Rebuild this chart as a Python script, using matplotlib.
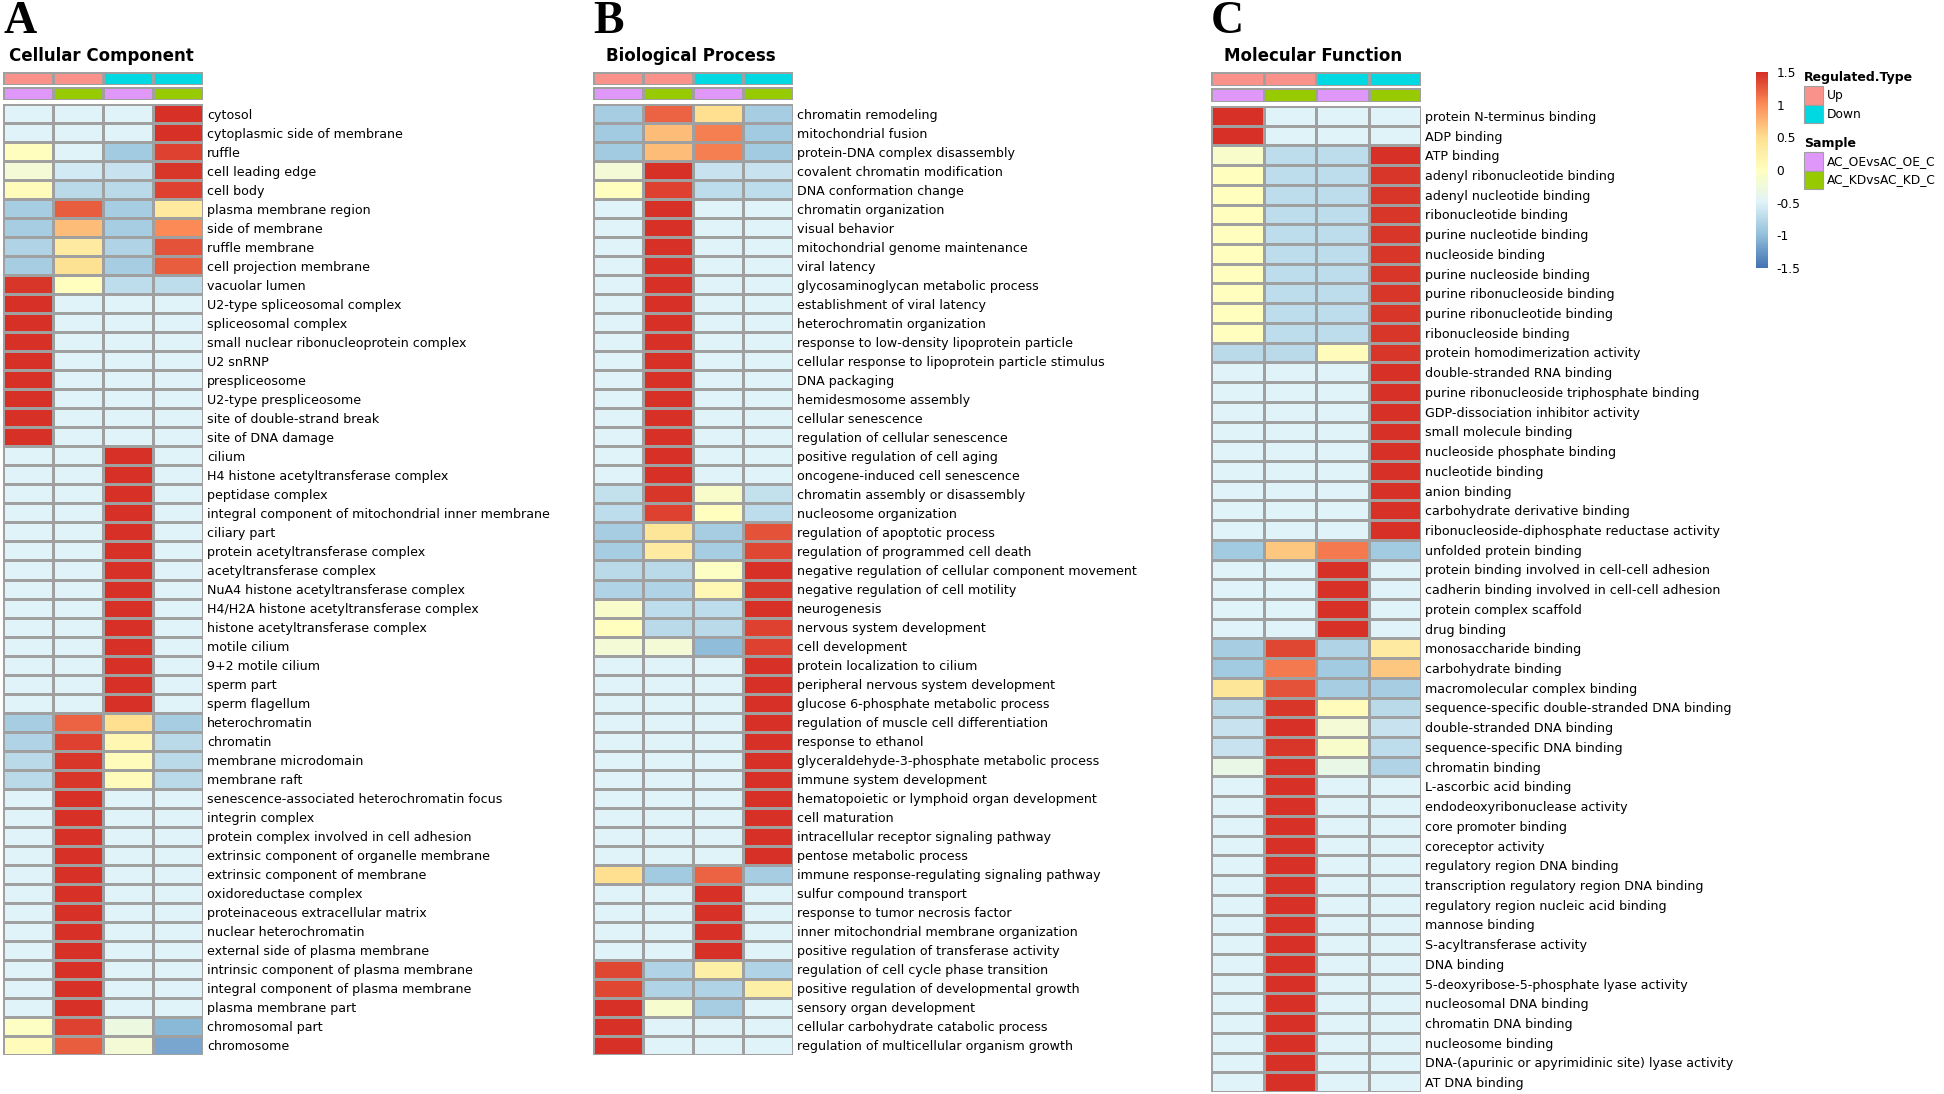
import numpy as np
import matplotlib.pyplot as plt
from matplotlib.colors import LinearSegmentedColormap, ListedColormap, Normalize
from matplotlib.cm import ScalarMappable
from matplotlib.patches import Rectangle

W, H = 1944, 1094

# row-scaled values (z-scores), columns: OE up, KD up, OE down, KD down
cc_terms = [
    "cytosol", "cytoplasmic side of membrane", "ruffle", "cell leading edge", "cell body",
    "plasma membrane region", "side of membrane", "ruffle membrane", "cell projection membrane",
    "vacuolar lumen", "U2-type spliceosomal complex", "spliceosomal complex",
    "small nuclear ribonucleoprotein complex", "U2 snRNP", "prespliceosome",
    "U2-type prespliceosome", "site of double-strand break", "site of DNA damage", "cilium",
    "H4 histone acetyltransferase complex", "peptidase complex",
    "integral component of mitochondrial inner membrane", "ciliary part",
    "protein acetyltransferase complex", "acetyltransferase complex",
    "NuA4 histone acetyltransferase complex", "H4/H2A histone acetyltransferase complex",
    "histone acetyltransferase complex", "motile cilium", "9+2 motile cilium", "sperm part",
    "sperm flagellum", "heterochromatin", "chromatin", "membrane microdomain", "membrane raft",
    "senescence-associated heterochromatin focus", "integrin complex",
    "protein complex involved in cell adhesion", "extrinsic component of organelle membrane",
    "extrinsic component of membrane", "oxidoreductase complex",
    "proteinaceous extracellular matrix", "nuclear heterochromatin",
    "external side of plasma membrane", "intrinsic component of plasma membrane",
    "integral component of plasma membrane", "plasma membrane part", "chromosomal part",
    "chromosome",
]
cc_values = [
    [-0.5, -0.5, -0.5, 1.5], [-0.5, -0.5, -0.5, 1.5], [0.0, -0.5, -0.9, 1.4],
    [-0.2, -0.6, -0.65, 1.45], [0.05, -0.75, -0.75, 1.4], [-0.85, 1.25, -0.85, 0.35],
    [-0.85, 0.7, -0.85, 1.0], [-0.8, 0.3, -0.8, 1.3], [-0.85, 0.45, -0.85, 1.25],
    [1.45, 0.0, -0.72, -0.72],
    [1.5, -0.5, -0.5, -0.5], [1.5, -0.5, -0.5, -0.5], [1.5, -0.5, -0.5, -0.5],
    [1.5, -0.5, -0.5, -0.5], [1.5, -0.5, -0.5, -0.5], [1.5, -0.5, -0.5, -0.5],
    [1.5, -0.5, -0.5, -0.5], [1.5, -0.5, -0.5, -0.5],
    [-0.5, -0.5, 1.5, -0.5], [-0.5, -0.5, 1.5, -0.5], [-0.5, -0.5, 1.5, -0.5],
    [-0.5, -0.5, 1.5, -0.5], [-0.5, -0.5, 1.5, -0.5], [-0.5, -0.5, 1.5, -0.5],
    [-0.5, -0.5, 1.5, -0.5], [-0.5, -0.5, 1.5, -0.5], [-0.5, -0.5, 1.5, -0.5],
    [-0.5, -0.5, 1.5, -0.5], [-0.5, -0.5, 1.5, -0.5], [-0.5, -0.5, 1.5, -0.5],
    [-0.5, -0.5, 1.5, -0.5], [-0.5, -0.5, 1.5, -0.5],
    [-0.85, 1.2, 0.5, -0.85], [-0.8, 1.4, 0.15, -0.75], [-0.75, 1.45, 0.05, -0.75],
    [-0.75, 1.45, 0.05, -0.75],
    [-0.5, 1.5, -0.5, -0.5], [-0.5, 1.5, -0.5, -0.5], [-0.5, 1.5, -0.5, -0.5],
    [-0.5, 1.5, -0.5, -0.5], [-0.5, 1.5, -0.5, -0.5], [-0.5, 1.5, -0.5, -0.5],
    [-0.5, 1.5, -0.5, -0.5], [-0.5, 1.5, -0.5, -0.5], [-0.5, 1.5, -0.5, -0.5],
    [-0.5, 1.5, -0.5, -0.5], [-0.5, 1.5, -0.5, -0.5], [-0.5, 1.5, -0.5, -0.5],
    [-0.05, 1.4, -0.3, -1.05], [0.05, 1.25, -0.2, -1.15],
]

bp_terms = [
    "chromatin remodeling", "mitochondrial fusion", "protein-DNA complex disassembly",
    "covalent chromatin modification", "DNA conformation change", "chromatin organization",
    "visual behavior", "mitochondrial genome maintenance", "viral latency",
    "glycosaminoglycan metabolic process", "establishment of viral latency",
    "heterochromatin organization", "response to low-density lipoprotein particle",
    "cellular response to lipoprotein particle stimulus", "DNA packaging",
    "hemidesmosome assembly", "cellular senescence", "regulation of cellular senescence",
    "positive regulation of cell aging", "oncogene-induced cell senescence",
    "chromatin assembly or disassembly", "nucleosome organization",
    "regulation of apoptotic process", "regulation of programmed cell death",
    "negative regulation of cellular component movement",
    "negative regulation of cell motility", "neurogenesis", "nervous system development",
    "cell development", "protein localization to cilium",
    "peripheral nervous system development", "glucose 6-phosphate metabolic process",
    "regulation of muscle cell differentiation", "response to ethanol",
    "glyceraldehyde-3-phosphate metabolic process", "immune system development",
    "hematopoietic or lymphoid organ development", "cell maturation",
    "intracellular receptor signaling pathway", "pentose metabolic process",
    "immune response-regulating signaling pathway", "sulfur compound transport",
    "response to tumor necrosis factor", "inner mitochondrial membrane organization",
    "positive regulation of transferase activity", "regulation of cell cycle phase transition",
    "positive regulation of developmental growth", "sensory organ development",
    "cellular carbohydrate catabolic process", "regulation of multicellular organism growth",
]
bp_values = [
    [-0.85, 1.2, 0.5, -0.85], [-0.9, 0.7, 1.05, -0.9], [-0.9, 0.7, 1.05, -0.9],
    [-0.2, 1.5, -0.65, -0.65], [0.0, 1.4, -0.7, -0.7],
    [-0.5, 1.5, -0.5, -0.5], [-0.5, 1.5, -0.5, -0.5], [-0.5, 1.5, -0.5, -0.5],
    [-0.5, 1.5, -0.5, -0.5], [-0.5, 1.5, -0.5, -0.5], [-0.5, 1.5, -0.5, -0.5],
    [-0.5, 1.5, -0.5, -0.5], [-0.5, 1.5, -0.5, -0.5], [-0.5, 1.5, -0.5, -0.5],
    [-0.5, 1.5, -0.5, -0.5], [-0.5, 1.5, -0.5, -0.5], [-0.5, 1.5, -0.5, -0.5],
    [-0.5, 1.5, -0.5, -0.5], [-0.5, 1.5, -0.5, -0.5], [-0.5, 1.5, -0.5, -0.5],
    [-0.68, 1.45, -0.1, -0.68], [-0.7, 1.4, 0.0, -0.7],
    [-0.85, 0.4, -0.85, 1.3], [-0.85, 0.3, -0.85, 1.35], [-0.75, -0.75, -0.05, 1.5],
    [-0.8, -0.8, 0.1, 1.45], [-0.1, -0.7, -0.7, 1.5], [0.0, -0.75, -0.75, 1.4],
    [-0.2, -0.2, -1.0, 1.4],
    [-0.5, -0.5, -0.5, 1.5], [-0.5, -0.5, -0.5, 1.5], [-0.5, -0.5, -0.5, 1.5],
    [-0.5, -0.5, -0.5, 1.5], [-0.5, -0.5, -0.5, 1.5], [-0.5, -0.5, -0.5, 1.5],
    [-0.5, -0.5, -0.5, 1.5], [-0.5, -0.5, -0.5, 1.5], [-0.5, -0.5, -0.5, 1.5],
    [-0.5, -0.5, -0.5, 1.5], [-0.5, -0.5, -0.5, 1.5],
    [0.5, -0.9, 1.2, -0.85],
    [-0.5, -0.5, 1.5, -0.5], [-0.5, -0.5, 1.5, -0.5], [-0.5, -0.5, 1.5, -0.5],
    [-0.5, -0.5, 1.5, -0.5],
    [1.35, -0.8, 0.25, -0.8], [1.35, -0.8, -0.8, 0.25], [1.5, -0.15, -0.85, -0.5],
    [1.5, -0.5, -0.5, -0.5], [1.5, -0.5, -0.5, -0.5],
]

mf_terms = [
    "protein N-terminus binding", "ADP binding", "ATP binding", "adenyl ribonucleotide binding",
    "adenyl nucleotide binding", "ribonucleotide binding", "purine nucleotide binding",
    "nucleoside binding", "purine nucleoside binding", "purine ribonucleoside binding",
    "purine ribonucleotide binding", "ribonucleoside binding",
    "protein homodimerization activity", "double-stranded RNA binding",
    "purine ribonucleoside triphosphate binding", "GDP-dissociation inhibitor activity",
    "small molecule binding", "nucleoside phosphate binding", "nucleotide binding",
    "anion binding", "carbohydrate derivative binding",
    "ribonucleoside-diphosphate reductase activity", "unfolded protein binding",
    "protein binding involved in cell-cell adhesion",
    "cadherin binding involved in cell-cell adhesion", "protein complex scaffold",
    "drug binding", "monosaccharide binding", "carbohydrate binding",
    "macromolecular complex binding", "sequence-specific double-stranded DNA binding",
    "double-stranded DNA binding", "sequence-specific DNA binding", "chromatin binding",
    "L-ascorbic acid binding", "endodeoxyribonuclease activity", "core promoter binding",
    "coreceptor activity", "regulatory region DNA binding",
    "transcription regulatory region DNA binding", "regulatory region nucleic acid binding",
    "mannose binding", "S-acyltransferase activity", "DNA binding",
    "5-deoxyribose-5-phosphate lyase activity", "nucleosomal DNA binding",
    "chromatin DNA binding", "nucleosome binding",
    "DNA-(apurinic or apyrimidinic site) lyase activity", "AT DNA binding",
]
mf_values = [
    [1.5, -0.5, -0.5, -0.5], [1.5, -0.5, -0.5, -0.5], [-0.1, -0.7, -0.7, 1.5],
    [0.0, -0.72, -0.72, 1.44], [0.0, -0.72, -0.72, 1.44], [0.0, -0.72, -0.72, 1.44],
    [0.0, -0.72, -0.72, 1.44], [0.0, -0.72, -0.72, 1.44], [0.0, -0.72, -0.72, 1.44],
    [0.0, -0.72, -0.72, 1.44], [0.0, -0.72, -0.72, 1.44], [0.0, -0.72, -0.72, 1.44],
    [-0.75, -0.75, 0.05, 1.45],
    [-0.5, -0.5, -0.5, 1.5], [-0.5, -0.5, -0.5, 1.5], [-0.5, -0.5, -0.5, 1.5],
    [-0.5, -0.5, -0.5, 1.5], [-0.5, -0.5, -0.5, 1.5], [-0.5, -0.5, -0.5, 1.5],
    [-0.5, -0.5, -0.5, 1.5], [-0.5, -0.5, -0.5, 1.5], [-0.5, -0.5, -0.5, 1.5],
    [-0.9, 0.65, 1.1, -0.9],
    [-0.5, -0.5, 1.5, -0.5], [-0.5, -0.5, 1.5, -0.5], [-0.5, -0.5, 1.5, -0.5],
    [-0.5, -0.5, 1.5, -0.5],
    [-0.85, 1.35, -0.8, 0.3], [-0.9, 1.1, -0.9, 0.65], [0.4, 1.3, -0.85, -0.85],
    [-0.75, 1.45, 0.05, -0.75], [-0.65, 1.5, -0.2, -0.65], [-0.65, 1.45, -0.1, -0.7],
    [-0.35, 1.5, -0.35, -0.8],
    [-0.5, 1.5, -0.5, -0.5], [-0.5, 1.5, -0.5, -0.5], [-0.5, 1.5, -0.5, -0.5],
    [-0.5, 1.5, -0.5, -0.5], [-0.5, 1.5, -0.5, -0.5], [-0.5, 1.5, -0.5, -0.5],
    [-0.5, 1.5, -0.5, -0.5], [-0.5, 1.5, -0.5, -0.5], [-0.5, 1.5, -0.5, -0.5],
    [-0.5, 1.5, -0.5, -0.5], [-0.5, 1.5, -0.5, -0.5], [-0.5, 1.5, -0.5, -0.5],
    [-0.5, 1.5, -0.5, -0.5], [-0.5, 1.5, -0.5, -0.5], [-0.5, 1.5, -0.5, -0.5],
    [-0.5, 1.5, -0.5, -0.5],
]

reg_type = ["Up", "Up", "Down", "Down"]
sample = ["AC_OEvsAC_OE_C", "AC_KDvsAC_KD_C", "AC_OEvsAC_OE_C", "AC_KDvsAC_KD_C"]
reg_levels = ["Up", "Down"]
sample_levels = ["AC_OEvsAC_OE_C", "AC_KDvsAC_KD_C"]
reg_colors = ["#F9928A", "#00D8E2"]
sample_colors = ["#DF98FA", "#97CA00"]
legend_ticks = [1.5, 1, 0.5, 0, -0.5, -1, -1.5]

heat_colors = ["#4575B4", "#91BFDB", "#E0F3F8", "#FFFFBF", "#FEE090", "#FC8D59", "#D73027"]
cmap = LinearSegmentedColormap.from_list("rdylbu_r", heat_colors, N=100)
norm = Normalize(vmin=-1.5, vmax=1.5)
grid = "#A0A0A0"

fig = plt.figure(figsize=(W / 100, H / 100), dpi=100)


def px_axes(x0, y0, x1, y1):
    return fig.add_axes([x0 / W, 1 - y1 / H, (x1 - x0) / W, (y1 - y0) / H])


def clean(ax):
    ax.set_xticks([])
    ax.set_yticks([])
    for s in ax.spines.values():
        s.set_visible(False)


def draw_panel(letter, title, title_x, terms, values, x0, x1, ann1, ann2, y0, y1):
    fig.text(x0 / W, 1 - 33 / H, letter, fontsize=33, fontweight="bold",
             family="Liberation Serif", va="baseline", ha="left")
    fig.text(title_x / W, 1 - 56 / H, title, fontsize=12, fontweight="bold",
             va="center", ha="left")

    # annotation rows
    for (ya, yb), labels, levels, cols in [(ann1, reg_type, reg_levels, reg_colors),
                                           (ann2, sample, sample_levels, sample_colors)]:
        ax = px_axes(x0, ya, x1, yb)
        idx = np.array([[levels.index(l) for l in labels]])
        ax.pcolormesh(idx, cmap=ListedColormap(cols), vmin=-0.5, vmax=1.5,
                      edgecolors=grid, linewidth=0.8)
        ax.set_xlim(0, 4)
        ax.set_ylim(1, 0)
        clean(ax)

    ax = px_axes(x0, y0, x1, y1)
    arr = np.array(values)
    ax.pcolormesh(arr, cmap=cmap, norm=norm, edgecolors=grid, linewidth=0.8)
    ax.set_xlim(0, arr.shape[1])
    ax.set_ylim(arr.shape[0], 0)
    clean(ax)
    ax.yaxis.tick_right()
    ax.set_yticks(np.arange(len(terms)) + 0.5)
    ax.set_yticklabels(terms, fontsize=9.1)
    ax.tick_params(axis="y", length=0, pad=3)


draw_panel("A", "Cellular Component", 9, cc_terms, cc_values, 3, 203,
           (72, 85), (87, 100), 104, 1055)
draw_panel("B", "Biological Process", 606, bp_terms, bp_values, 593, 793,
           (72, 85), (87, 100), 104, 1055)
draw_panel("C", "Molecular Function", 1224, mf_terms, mf_values, 1211, 1421,
           (72, 86), (88, 102), 106, 1092)

# colour legend
cax = px_axes(1756, 72, 1768, 268)
cb = fig.colorbar(ScalarMappable(norm=norm, cmap=cmap), cax=cax)
cb.outline.set_visible(False)
cb.set_ticks(legend_ticks)
cb.set_ticklabels([f"{t:g}" for t in legend_ticks])
cax.tick_params(length=0, pad=6, labelsize=8.8)

# annotation legends
def legend_block(ty, name, levels, cols, top):
    fig.text(1804 / W, 1 - ty / H, name, fontsize=9, fontweight="bold",
             va="center", ha="left")
    for i, (lv, c) in enumerate(zip(levels, cols)):
        yt = top + i * 18.5
        fig.patches.append(Rectangle((1804 / W, 1 - (yt + 18.5) / H), 19 / W, 18.5 / H,
                                     transform=fig.transFigure, facecolor=c,
                                     edgecolor=grid, linewidth=0.8))
        fig.text(1827 / W, 1 - (yt + 9.5) / H, lv, fontsize=8.8, va="center", ha="left")


legend_block(77, "Regulated.Type", reg_levels, reg_colors, 86)
legend_block(143, "Sample", sample_levels, sample_colors, 152)

fig.savefig("out.png", dpi=100)
plt.close(fig)
